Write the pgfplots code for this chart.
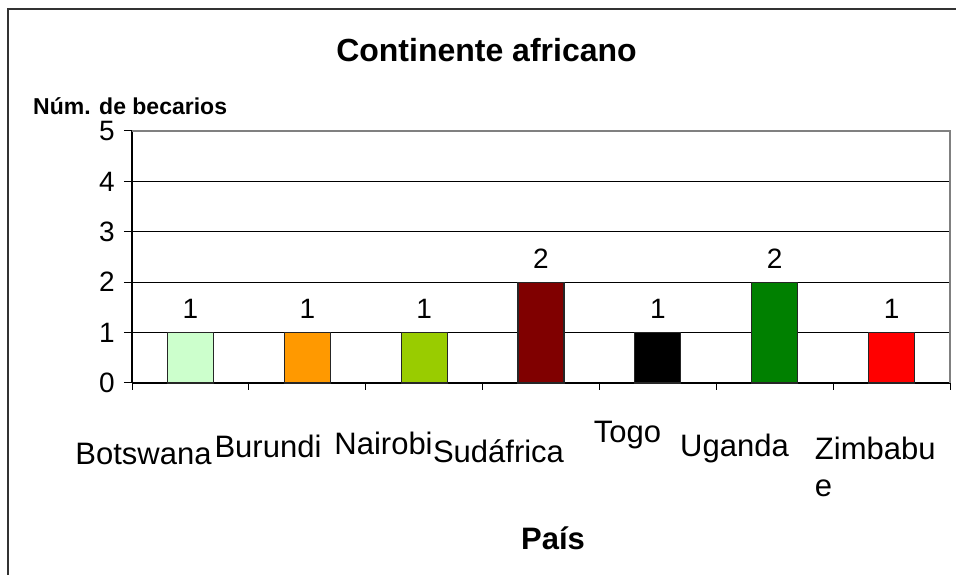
\documentclass[border=0pt]{standalone}
\usepackage{pgfplots}
\pgfplotsset{compat=1.18}
\usepackage{fontspec}
\setmainfont{Liberation Sans}
\definecolor{cBot}{HTML}{CCFFCC}
\definecolor{cBur}{HTML}{FF9900}
\definecolor{cNai}{HTML}{99CC00}
\definecolor{cSud}{HTML}{800000}
\definecolor{cTog}{HTML}{000000}
\definecolor{cUga}{HTML}{008000}
\definecolor{cZim}{HTML}{FF0000}
\definecolor{frame}{HTML}{333333}
\newcommand{\xl}[3]{\raisebox{-#2pt}[0pt][0pt]{\makebox[0pt]{\hspace*{#1pt}#3}}}
\begin{document}
\begin{tikzpicture}[x=1pt,y=1pt]
\path[use as bounding box] (0,0) rectangle (956,575);
\draw[frame, line width=2pt] (7.5,0) -- (7.5,566.3) -- (957,566.3);
\begin{axis}[
  at={(132pt,192pt)}, anchor=south west,
  scale only axis, width=818pt, height=252pt,
  xmin=-0.5, xmax=6.5, ymin=0, ymax=5,
  axis x line*=bottom, axis y line*=left,
  axis line style={-, black, line width=1.2pt},
  ytick={0,1,2,3,4,5},
  ymajorgrids, grid style={black, line width=0.9pt},
  xtick={0,1,2,3,4,5,6},
  xticklabels={\xl{-93.8}{74}{Botswana},\xl{-78.6}{67}{Burundi},\xl{-81.2}{64}{Nairobi},\xl{-85}{72}{Sudáfrica},\xl{-60.8}{52}{Togo},\xl{-80.4}{66}{Uganda},
    {\raisebox{-69pt}[0pt][0pt]{\makebox[0pt][l]{\hspace*{-76.6pt}\begin{tabular}[t]{@{}l@{}}Zimbabu\\e\end{tabular}}}}},
  minor xtick={-0.5,0.5,...,6.5},
  tick align=outside,
  major tick length=8pt, minor tick length=7pt,
  x tick style={draw=none},
  minor x tick style={draw=black, line width=1pt},
  y tick style={black, line width=1pt},
  xticklabel style={anchor=base, inner sep=0pt, font=\fontsize{31}{37}\selectfont},
  yticklabel style={anchor=east, inner sep=0pt, xshift=-9pt, font=\fontsize{28}{33}\selectfont},
  /pgf/number format/assume math mode=true,
  ybar, bar width=46pt, bar shift=0pt,
  nodes near coords,
  every node near coord/.append style={anchor=base, inner sep=0pt, yshift=14pt, font=\fontsize{28}{33}\selectfont, black},
  clip=false,
]
\addplot[fill=cBot, draw=black!85, line width=1.2pt] coordinates {(0,1)};
\addplot[fill=cBur, draw=black!85, line width=1.2pt] coordinates {(1,1)};
\addplot[fill=cNai, draw=black!85, line width=1.2pt] coordinates {(2,1)};
\addplot[fill=cSud, draw=black!85, line width=1.2pt] coordinates {(3,2)};
\addplot[fill=cTog, draw=black!85, line width=1.2pt] coordinates {(4,1)};
\addplot[fill=cUga, draw=black!85, line width=1.2pt] coordinates {(5,2)};
\addplot[fill=cZim, draw=black!85, line width=1.2pt] coordinates {(6,1)};
\draw[gray, line width=1.4pt] (rel axis cs:0,1) -- (rel axis cs:1,1) -- (rel axis cs:1,0);
\end{axis}
\node[anchor=base, inner sep=0pt, font=\bfseries\fontsize{32}{38}\selectfont] at (486.5,513) {Continente africano};
\node[anchor=base west, inner sep=0pt, font=\bfseries\fontsize{23}{28}\selectfont] at (33,460) {Núm. de becarios};
\node[anchor=base, inner sep=0pt, font=\bfseries\fontsize{31}{37}\selectfont] at (553,25) {País};
\end{tikzpicture}
\end{document}
